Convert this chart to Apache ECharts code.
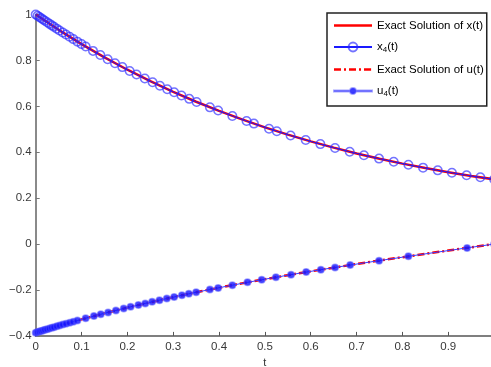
<!DOCTYPE html>
<html>
<head>
<meta charset="utf-8">
<script src="https://cdn.jsdelivr.net/npm/echarts@6/dist/echarts.min.js"></script>
<style>html,body{margin:0;padding:0;background:#fff;}#c{width:491px;height:367px;}</style>
</head>
<body>
<div id="c"></div>
<script>
// Exact solution curves
const lineT = [0,0.05,0.1,0.15,0.2,0.25,0.3,0.35,0.4,0.45,0.5,0.55,0.6,0.65,0.7,0.75,0.8,0.85,0.9,0.95,1.0];
const xExact = [1.0000,0.9332,0.8710,0.8132,0.7594,0.7094,0.6630,0.6199,0.5800,0.5429,0.5085,0.4767,0.4472,0.4200,0.3949,0.3718,0.3505,0.3310,0.3131,0.2968,0.2820];
const uExact = [-0.3858,-0.3560,-0.3280,-0.3017,-0.2769,-0.2534,-0.2312,-0.2102,-0.1902,-0.1712,-0.1530,-0.1356,-0.1189,-0.1027,-0.0871,-0.0719,-0.0571,-0.0426,-0.0282,-0.0141,0.0000];
// Approximations x4(t)
const xMarkT = [0,0.004,0.008,0.012,0.016,0.02,0.025,0.03,0.035,0.04,0.046,0.052,0.059,0.066,0.074,0.082,0.091,0.1,0.109,0.125,0.141,0.157,0.173,0.189,0.205,0.220,0.238,0.255,0.271,0.287,0.302,0.318,0.335,0.351,0.380,0.398,0.429,0.460,0.476,0.509,0.526,0.556,0.589,0.621,0.653,0.685,0.716,0.749,0.781,0.813,0.845,0.877,0.908,0.940,0.970,1.0];
const xApprox = [1.0000,0.99447,0.98898,0.98351,0.97808,0.97268,0.96597,0.95931,0.95270,0.94614,0.93832,0.93058,0.92162,0.91276,0.90274,0.89283,0.88183,0.87096,0.86023,0.84154,0.82325,0.80539,0.78794,0.77089,0.75423,0.73897,0.72110,0.70464,0.68953,0.67477,0.66125,0.64715,0.63254,0.61911,0.59559,0.58149,0.55810,0.53578,0.52466,0.50257,0.49162,0.47300,0.45350,0.43551,0.41843,0.40221,0.38728,0.37221,0.35836,0.34524,0.33285,0.32113,0.31040,0.29995,0.29071,0.28199];
// Approximations u4(t)
const uMarkT = [0,0.004,0.008,0.012,0.016,0.02,0.025,0.03,0.035,0.04,0.046,0.052,0.059,0.066,0.074,0.082,0.091,0.109,0.127,0.142,0.158,0.175,0.192,0.207,0.224,0.239,0.254,0.270,0.286,0.302,0.319,0.334,0.350,0.380,0.398,0.429,0.462,0.493,0.524,0.557,0.590,0.622,0.653,0.686,0.749,0.813,0.941,1.0];
const uApprox = [-0.38580,-0.38335,-0.38091,-0.37849,-0.37607,-0.37367,-0.37068,-0.36772,-0.36477,-0.36184,-0.35834,-0.35488,-0.35086,-0.34689,-0.34238,-0.33792,-0.33295,-0.32318,-0.31362,-0.30580,-0.29762,-0.28909,-0.28073,-0.27349,-0.26542,-0.25845,-0.25157,-0.24437,-0.23730,-0.23035,-0.22309,-0.21679,-0.21018,-0.19807,-0.19098,-0.17905,-0.16673,-0.15549,-0.14456,-0.13322,-0.12217,-0.11170,-0.10177,-0.09143,-0.07223,-0.05330,-0.01660,0.00000];

const seriesNames = ['Exact Solution of x(t)', 'x4(t)', 'Exact Solution of u(t)', 'u4(t)'];
const pair = (ts, vs) => ts.map((t, i) => [t, vs[i]]);
const font = 'Liberation Sans, Arial, Helvetica, sans-serif';
const fmt = v => String(Number(v.toFixed(2))).replace('-', '\u2212');

// legend icons (38 px wide samples)
const solidIcon = 'path://M0,0H38V2.5H0Z';
const dashDotIcon = 'path://M0,0H7V2.5H0Z M10,0H12V2.5H10Z M15,0H22V2.5H15Z M25,0H27V2.5H25Z M30,0H37V2.5H30Z M37.9,0H38V2.5H37.9Z';
const dotLineIcon = 'path://M0,3H38V4H0Z M19,0.5A3,3 0 1,1 18.99,0.5Z';

const chart = echarts.init(document.getElementById('c'), null, {renderer: 'canvas'});
chart.setOption({
  animation: false,
  backgroundColor: '#fff',
  grid: {left: 35.7, top: 14.5, width: 458.4, height: 321.4, containLabel: false, outerBoundsMode: 'none'},
  xAxis: {
    type: 'value', min: 0, max: 1, interval: 0.1,
    name: 't', nameLocation: 'middle', nameGap: 20,
    nameTextStyle: {fontFamily: font, fontSize: 11, color: '#333'},
    axisLine: {onZero: false, lineStyle: {color: '#555', width: 1.5}},
    axisTick: {inside: true, length: 4, lineStyle: {color: '#555', width: 1}},
    axisLabel: {fontFamily: font, fontSize: 11.5, color: '#383838', margin: 5, formatter: fmt, showMaxLabel: false},
    splitLine: {show: false}
  },
  yAxis: {
    type: 'value', min: -0.4, max: 1, interval: 0.2,
    axisLine: {onZero: false, lineStyle: {color: '#8a8a8a', width: 2}},
    axisTick: {inside: true, length: 4, lineStyle: {color: '#777', width: 1}},
    axisLabel: {fontFamily: font, fontSize: 11.5, color: '#383838', margin: 4, formatter: fmt},
    splitLine: {show: false}
  },
  legend: {
    orient: 'vertical', left: 327, top: 13,
    itemWidth: 38, itemHeight: 11, itemGap: 9.5,
    padding: [6.5, 3, 8, 6],
    backgroundColor: '#fff', borderColor: '#222', borderWidth: 1.5,
    data: [
      {name: seriesNames[0], icon: solidIcon, itemStyle: {color: '#ff0000'}},
      {name: seriesNames[1]},
      {name: seriesNames[2], icon: dashDotIcon, itemStyle: {color: '#ff0000'}},
      {name: seriesNames[3], icon: dotLineIcon, itemStyle: {color: '#2a2aff'}}
    ],
    textStyle: {
      fontFamily: font, fontSize: 11.5, color: '#000',
      rich: {
        n: {fontFamily: font, fontSize: 11.5, color: '#000'},
        s: {fontFamily: font, fontSize: 8, color: '#000', verticalAlign: 'bottom', padding: [6, 0, 0, 0]}
      }
    },
    formatter: name => {
      const m = name.match(/^([xu])4(\(t\))$/);
      return m ? '{n|' + m[1] + '}{s|4}{n|' + m[2] + '}' : name;
    }
  },
  series: [
    {
      name: seriesNames[0], type: 'line', data: pair(lineT, xExact),
      showSymbol: false, symbol: 'none',
      lineStyle: {color: '#ff0000', width: 2.5}, itemStyle: {color: '#ff0000'}, z: 2
    },
    {
      name: seriesNames[1], type: 'line', data: pair(xMarkT, xApprox),
      symbol: 'circle', symbolSize: 8.5, showAllSymbol: true,
      lineStyle: {color: '#1a1aff', width: 1},
      itemStyle: {color: 'rgba(0,0,0,0)', borderColor: 'rgba(40,40,255,0.65)', borderWidth: 1.5}, z: 3
    },
    {
      name: seriesNames[2], type: 'line', data: pair(lineT, uExact),
      showSymbol: false, symbol: 'none',
      lineStyle: {color: '#ff0000', width: 2.5, type: [7, 3, 2, 3]}, itemStyle: {color: '#ff0000'}, z: 2
    },
    {
      name: seriesNames[3], type: 'line', data: pair(uMarkT, uApprox),
      symbol: 'circle', symbolSize: 6.5, showAllSymbol: true,
      lineStyle: {color: '#3a3aff', width: 1},
      itemStyle: {color: 'rgba(20,20,255,0.8)', borderColor: 'rgba(80,80,255,0.5)', borderWidth: 1.5}, z: 3
    }
  ]
});
</script>
</body>
</html>
